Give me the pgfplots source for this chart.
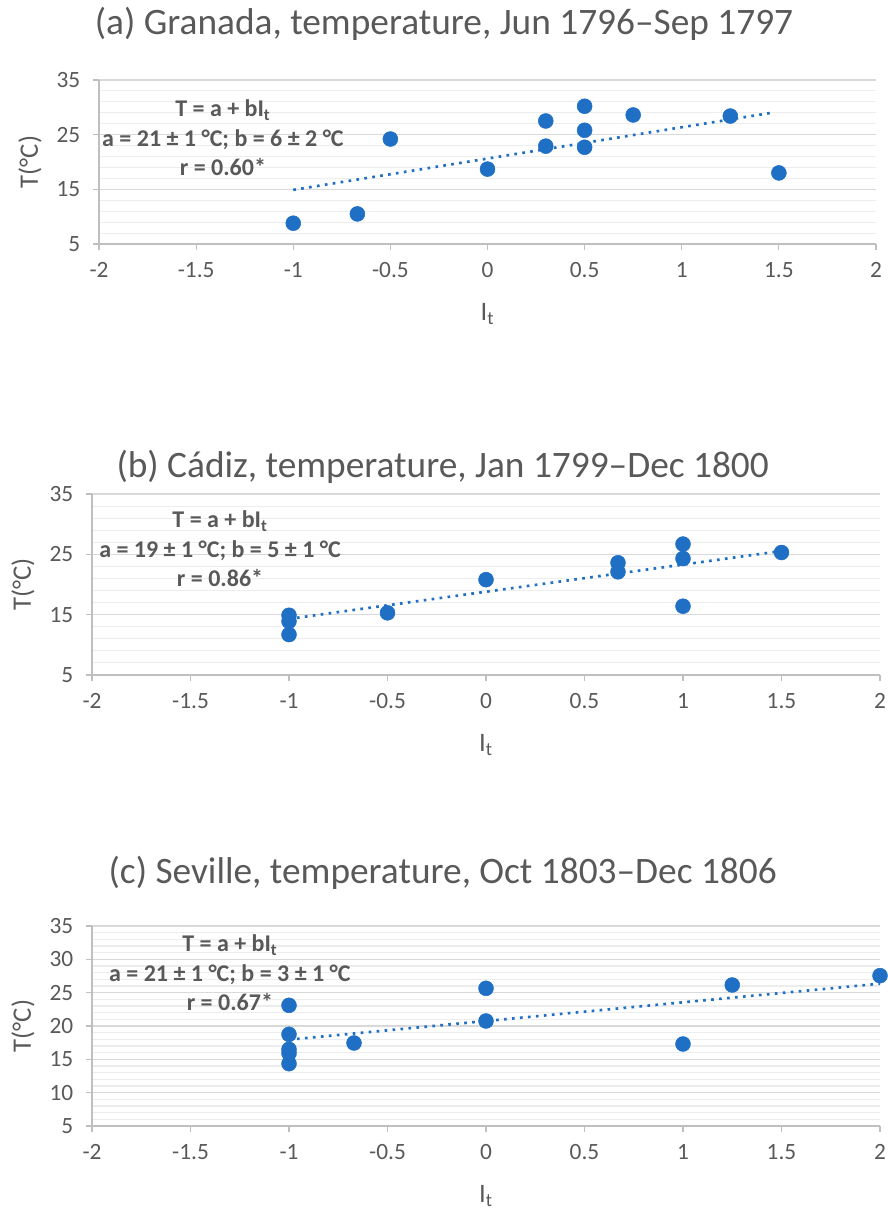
\documentclass[border=0pt]{standalone}
\usepackage{fontspec}
\setmainfont{Carlito}
\usepackage{pgfplots}
\pgfplotsset{compat=1.18}
\definecolor{txt}{HTML}{595959}
\definecolor{dotc}{HTML}{1F6FC5}
\definecolor{gmaj}{HTML}{D9D9D9}
\definecolor{gmin}{HTML}{EDEDED}
\definecolor{axl}{HTML}{BFBFBF}

\pgfplotsset{
  panel/.style={
    scale only axis,
    xmin=-2, xmax=2,
    xtick={-2,-1.5,-1,-0.5,0,0.5,1,1.5,2},
    xticklabels={-2,-1.5,-1,-0.5,0,0.5,1,1.5,2},
    ymin=5, ymax=35,
    axis lines*=left,
    axis line style={draw=axl, line width=0.8pt, -},
    tick style={draw=axl, line width=0.8pt},
    tick align=outside, major tick length=4.5pt,
    minor tick length=0pt,
    ymajorgrids, yminorgrids,
    major grid style={draw=gmaj, line width=0.8pt},
    minor grid style={draw=gmin, line width=0.8pt},
    /pgf/number format/assume math mode=true,
    ticklabel style={font=\fontsize{17.5}{20}\selectfont, text=txt},
    xticklabel style={yshift=-6pt},
    yticklabel style={xshift=-6pt},
    xlabel={I\textsubscript{t}},
    ylabel={T(°C)},
    label style={font=\fontsize{20}{24}\selectfont, text=txt},
    xlabel style={at={(axis description cs:0.5,0)}, anchor=center, yshift=-52.5pt},
    ylabel style={at={([xshift=-51.75pt]axis description cs:0,0.5)}, anchor=center},
    title style={font=\fontsize{28}{33}\selectfont, text=txt, anchor=center},
    clip=false,
  },
  pts/.style={only marks, mark=*, mark size=5.6pt, color=dotc, mark options={fill=dotc, draw=dotc}},
  trend/.style={no marks, color=dotc, line width=2pt, dash pattern=on 2pt off 4pt},
}
\tikzset{note/.style={align=center, font=\bfseries\fontsize{18}{22}\selectfont, text=txt}}

\begin{document}
\begin{tikzpicture}
\path[use as bounding box] (0,0) rectangle (666pt,906.75pt);

% (a) Granada
\begin{axis}[panel, at={(74.25pt,723.75pt)}, anchor=south west, width=582.75pt, height=123pt,
  ytick={5,15,25,35}, minor y tick num=4,
  title={(a) Granada, temperature, Jun 1796–Sep 1797},
  title style={at={(axis description cs:0.444,1)}, yshift=36pt}]
\addplot[trend] coordinates {(-1,14.9) (1.48,29.1)};
\addplot[pts] coordinates {
  (-1,8.8) (-0.67,10.5) (-0.5,24.2) (0,18.7) (0.3,27.5) (0.3,22.9)
  (0.5,30.2) (0.5,25.8) (0.5,22.7) (0.75,28.6) (1.25,28.4) (1.5,18.0)};
\node[note] at (axis cs:-1.362,24.4) {T = a + bI\textsubscript{t}\\a = 21 ± 1 °C; b = 6 ± 2 °C\\r = 0.60*};
\end{axis}

% (b) Cadiz
\begin{axis}[panel, at={(69pt,400.5pt)}, anchor=south west, width=591pt, height=135.75pt,
  ytick={5,15,25,35}, minor y tick num=4,
  title={(b) Cádiz, temperature, Jan 1799–Dec 1800},
  title style={at={(axis description cs:0.445,1)}, yshift=14.25pt}]
\addplot[trend] coordinates {(-1,14.3) (1.5,25.55)};
\addplot[pts] coordinates {
  (-1,14.9) (-1,13.9) (-1,11.7) (-0.5,15.3) (0,20.8) (0.67,23.6) (0.67,22.1)
  (1,26.7) (1,24.3) (1,16.4) (1.5,25.3)};
\node[note] at (axis cs:-1.35,25.9) {T = a + bI\textsubscript{t}\\a = 19 ± 1 °C; b = 5 ± 1 °C\\r = 0.86*};
\end{axis}

% (c) Seville
\begin{axis}[panel, at={(69pt,62.25pt)}, anchor=south west, width=591pt, height=150pt,
  ytick={5,10,15,20,25,30,35}, minor y tick num=4,
  title={(c) Seville, temperature, Oct 1803–Dec 1806},
  title style={at={(axis description cs:0.445,1)}, yshift=33.75pt}]
\addplot[trend] coordinates {(-1,17.95) (2,26.35)};
\addplot[pts] coordinates {
  (-1,23.1) (-1,18.75) (-1,16.5) (-1,15.9) (-1,14.35) (-0.67,17.45)
  (0,25.65) (0,20.75) (1,17.3) (1.25,26.15) (2,27.55)};
\node[note] at (axis cs:-1.30,27.95) {T = a + bI\textsubscript{t}\\a = 21 ± 1 °C; b = 3 ± 1 °C\\r = 0.67*};
\end{axis}
\end{tikzpicture}
\end{document}
